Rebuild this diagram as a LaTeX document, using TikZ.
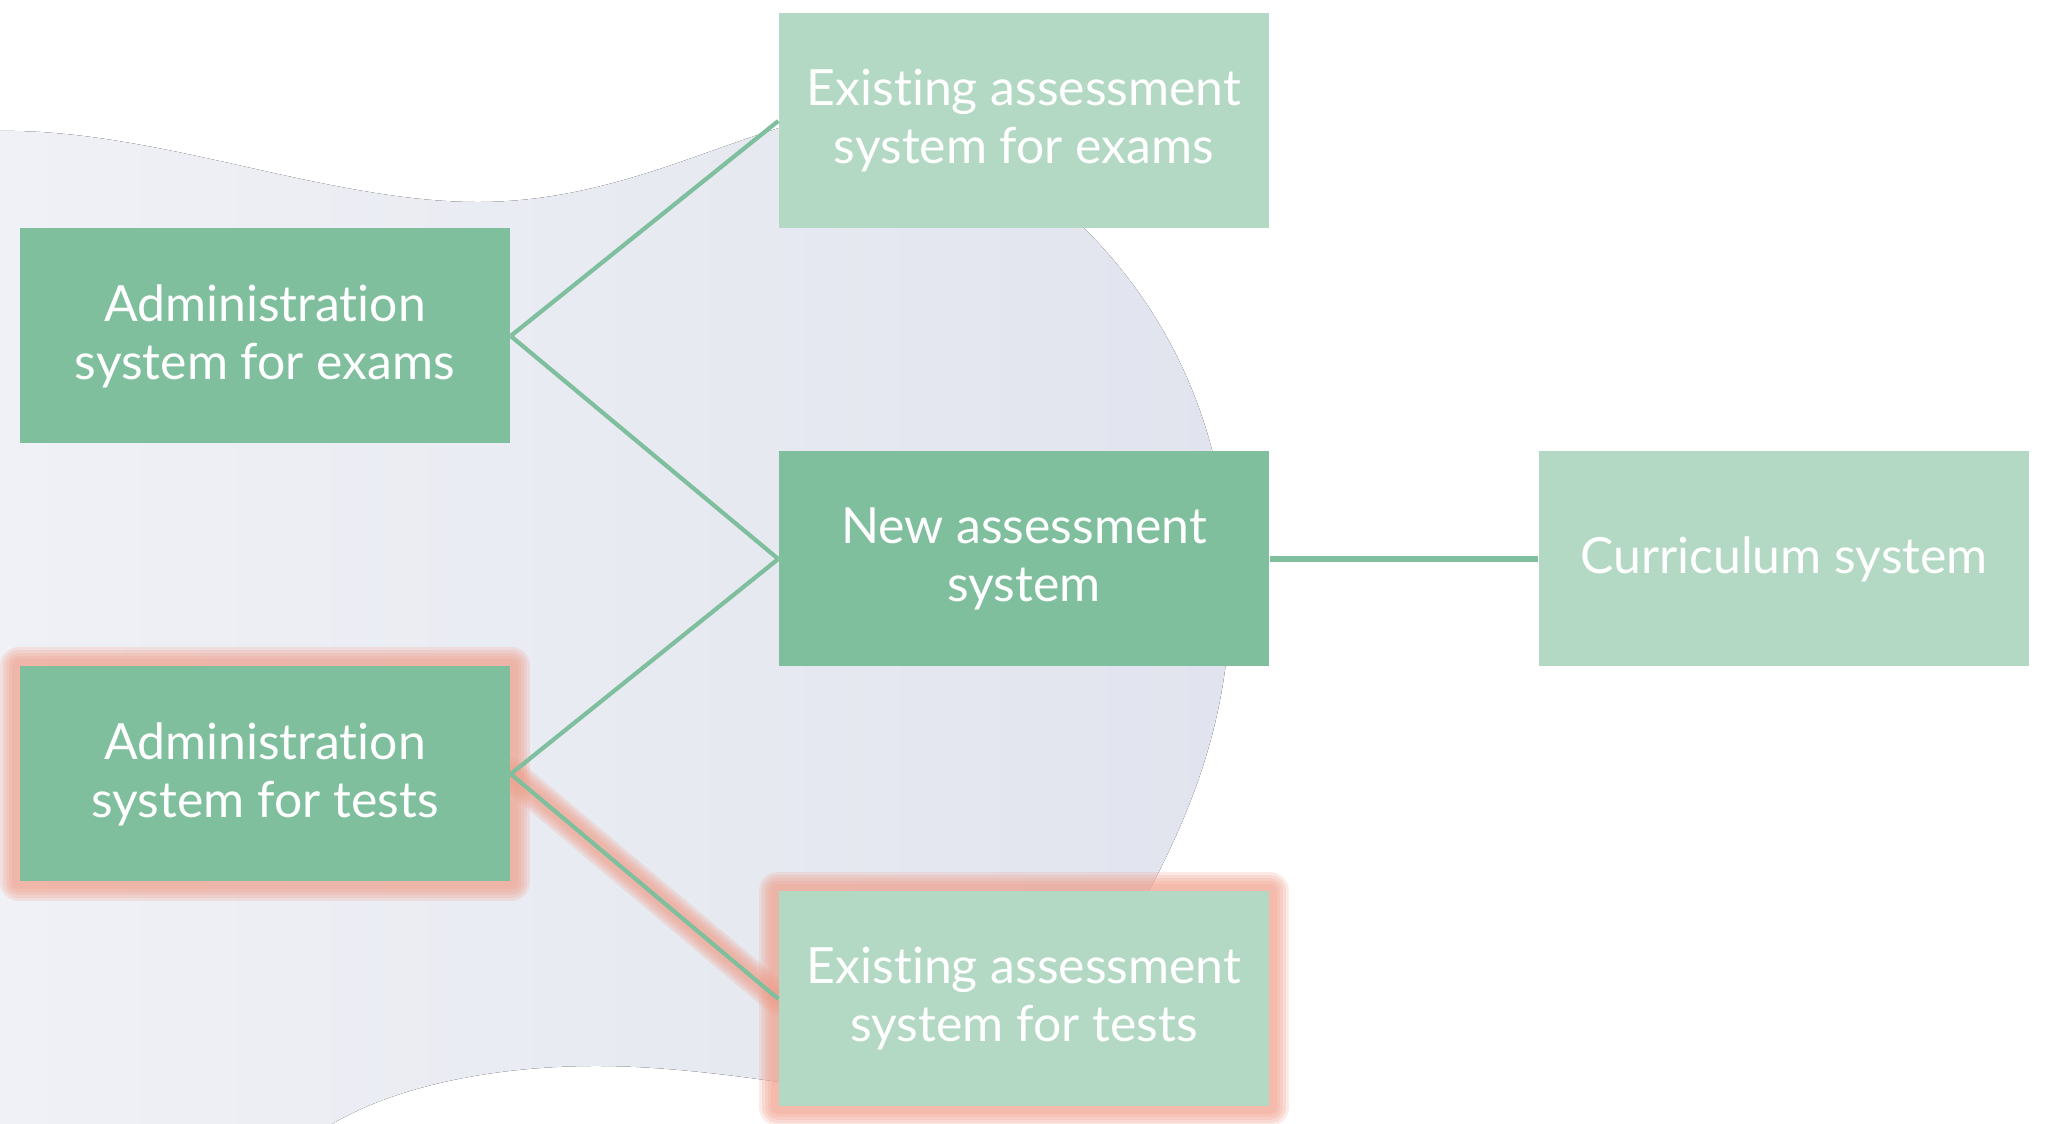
\documentclass[tikz,border=0pt]{standalone}
\usepackage{fontspec}
\setmainfont{Lato}[Ligatures=NoCommon]
\usetikzlibrary{positioning,backgrounds}
\definecolor{boxdark}{RGB}{127,191,158}
\definecolor{boxlight}{RGB}{179,217,196}
\definecolor{blobleft}{RGB}{240,241,246}
\definecolor{blobright}{RGB}{225,228,238}
\definecolor{glowred}{RGB}{240,160,140}
\tikzset{
    sysbox/.style={
           rectangle,
           fill=boxdark,
           text=white,
           minimum width=4.9cm,
           minimum height=2.15cm,
           inner sep=2pt,
           align=center,
           font=\fontsize{14.2}{16.5}\selectfont,
           },
    sysboxlight/.style={sysbox, fill=boxlight},
    link/.style={draw=boxdark, line width=1.2pt},
    glow/.style={draw=glowred, opacity=0.22, line join=round, line cap=round},
}

\begin{document}
\begin{tikzpicture}
        \useasboundingbox (0,0) rectangle (20.49,11.24);

        % STATE NEW SYSTEM
        % the middle box, everything else is placed from here
        \node[sysbox] (NEW_SYS) at (10.24,5.65)
        {New assessment\\ system};

        % STATE OLD EXAMS
        \node[sysboxlight,
            above of=NEW_SYS,
            node distance=4.38cm,
            anchor=center] (OLD_EXAMS)
        {Existing assessment\\ system for exams};

        % STATE OLD TESTS
        \node[sysboxlight,
            below of=NEW_SYS,
            node distance=4.4cm,
            anchor=center] (OLD_TESTS)
        {Existing assessment\\ system for tests};

        % STATE CURRICULUM
        \node[sysboxlight,
            right of=NEW_SYS,
            node distance=7.6cm,
            anchor=center] (CURRIC)
        {Curriculum system};

        % STATE ADMIN EXAMS
        \node[sysbox,
            left of=NEW_SYS,
            yshift=2.23cm,      % move up
            node distance=7.59cm,
            anchor=center] (ADM_EXAMS)
        {Administration\\ system for exams};

        % STATE ADMIN TESTS
        \node[sysbox,
            left of=NEW_SYS,
            yshift=-2.15cm,     % move down
            node distance=7.59cm,
            anchor=center] (ADM_TESTS)
        {Administration\\ system for tests};

        % blob and red glow go behind the boxes
        \begin{scope}[on background layer]
        \fill[left color=blobleft, right color=blobright]
            (0,0) -- (0,9.93)
            .. controls (1.6,9.95) and (3.3,9.2) .. (4.84,9.22)
            .. controls (6.2,9.24) and (7.2,9.85) .. (8.3,10.1)
            .. controls (9.3,10.3) and (10.2,9.6) .. (10.85,8.95)
            .. controls (11.7,8.1) and (12.3,6.9) .. (12.3,5.3)
            .. controls (12.3,4.2) and (12.0,3.3) .. (11.5,2.35)
            .. controls (11.0,1.3) and (9.5,0.3) .. (7.79,0.42)
            .. controls (7.1,0.52) and (6.5,0.58) .. (5.96,0.58)
            .. controls (5.0,0.58) and (4.0,0.4) .. (3.32,0)
            -- cycle;
        \foreach \w in {0.14,0.2,0.26,0.32,0.38} {
            \draw[glow, line width=\w cm] (ADM_TESTS.north west) rectangle (ADM_TESTS.south east);
            \draw[glow, line width=\w cm] (OLD_TESTS.north west) rectangle (OLD_TESTS.south east);
        }
        \foreach \w in {0.12,0.17,0.22,0.27,0.32} {
            \draw[glow, line width=\w cm] (ADM_TESTS.east) -- (OLD_TESTS.west);
        }
        \end{scope}

        % connectors
        \path
        (ADM_EXAMS.east)  edge [link] (OLD_EXAMS.west)
        (ADM_EXAMS.east)  edge [link] (NEW_SYS.west)
        (ADM_TESTS.east)  edge [link] (NEW_SYS.west)
        (ADM_TESTS.east)  edge [link] (OLD_TESTS.west)
        (NEW_SYS)         edge [link, line width=1.7pt] (CURRIC)
        ;

        \end{tikzpicture}
\end{document}
